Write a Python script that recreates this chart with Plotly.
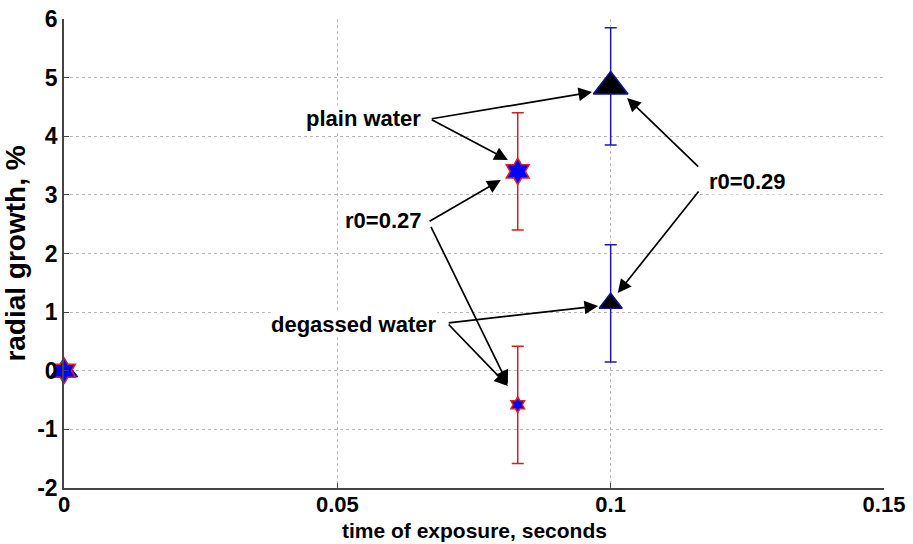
import plotly.graph_objects as go

# data
star_x = [0.083, 0.083]          # r0=0.27 (hexagram), plain / degassed
star_y = [3.4, -0.58]
star_err = [1.0, 1.0]
star_size = [20, 12]

tri_x = [0.1, 0.1]               # r0=0.29 (triangle), plain / degassed
tri_y = [4.85, 1.15]
tri_err = [1.0, 1.0]
tri_size = [30, 20]

origin_x = [0.0]
origin_y = [0.0]

x_ticks = [0, 0.05, 0.1, 0.15]
x_tick_labels = ["0", "0.05", "0.1", "0.15"]
y_ticks = [-2, -1, 0, 1, 2, 3, 4, 5, 6]
y_tick_labels = ["-2", "-1", "0", "1", "2", "3", "4", "5", "6"]

FONT = "Liberation Sans, Arial, sans-serif"

fig = go.Figure()

fig.add_trace(go.Scatter(
    x=tri_x, y=tri_y, mode="markers",
    marker=dict(symbol="triangle-up", size=tri_size, color="black", opacity=1,
                line=dict(color="#1010a0", width=1.5)),
    error_y=dict(type="data", array=tri_err, color="#1a1ab0", thickness=1.5, width=6),
    showlegend=False))

fig.add_trace(go.Scatter(
    x=star_x, y=star_y, mode="markers",
    marker=dict(symbol="hexagram", size=star_size, color="#0000ff", opacity=1,
                line=dict(color="#e02020", width=1.5)),
    error_y=dict(type="data", array=star_err, color="#d02020", thickness=1.5, width=6),
    showlegend=False))

fig.add_trace(go.Scatter(
    x=origin_x, y=origin_y, mode="markers",
    marker=dict(symbol="triangle-up", size=24, color="#0000ff", opacity=1,
                line=dict(color="#0000a0", width=1)),
    showlegend=False, cliponaxis=False))
fig.add_trace(go.Scatter(
    x=origin_x, y=origin_y, mode="markers",
    marker=dict(symbol="hexagram", size=20, color="#0000ff", opacity=1,
                line=dict(color="#e02020", width=1.5)),
    showlegend=False, cliponaxis=False))

def arrow(tail, head):
    return dict(x=head[0], y=head[1], ax=tail[0], ay=tail[1],
                xref="x", yref="y", axref="x", ayref="y",
                showarrow=True, arrowhead=2, arrowsize=1.6, arrowwidth=1.7,
                arrowcolor="black", text="", standoff=0)

def label(txt, pos):
    return dict(x=pos[0], y=pos[1], xref="x", yref="y", text=txt,
                showarrow=False, font=dict(family=FONT, size=22, color="black"),
                bgcolor="white", borderpad=0)

anns = [
    arrow((0.0670, 4.294), (0.0966, 4.755)),
    arrow((0.0670, 4.294), (0.0812, 3.595)),
    arrow((0.0666, 2.537), (0.0799, 3.254)),
    arrow((0.0670, 2.480), (0.0812, -0.226)),
    arrow((0.0701, 0.815), (0.0977, 1.104)),
    arrow((0.0701, 0.815), (0.0812, -0.260)),
    arrow((0.1163, 3.458), (0.1030, 4.652)),
    arrow((0.1163, 3.083), (0.1013, 1.326)),
    label("<b>plain water</b>", (0.0548, 4.31)),
    label("<b>r0=0.27</b>", (0.0583, 2.571)),
    label("<b>degassed water</b>", (0.0530, 0.790)),
    label("<b>r0=0.29</b>", (0.1250, 3.22)),
    dict(x=0.5, y=-0.0905, xref="paper", yref="paper", xanchor="center",
         yanchor="middle", showarrow=False,
         text="<b>time of exposure, seconds</b>",
         font=dict(size=21, family=FONT, color="black")),
]

fig.update_layout(
    width=913, height=544,
    margin=dict(l=64, r=29, t=19, b=56),
    paper_bgcolor="white", plot_bgcolor="white",
    font=dict(family=FONT, color="black"),
    annotations=anns,
    xaxis=dict(range=[0, 0.15], tickvals=x_ticks, ticktext=x_tick_labels,
               automargin=False, ticklabelstandoff=-4,
               showgrid=True, gridcolor="#b8b8b8", griddash="dot", gridwidth=1,
               showline=True, linecolor="#444444", linewidth=1.5,
               zeroline=False, ticks="inside", ticklen=5, tickcolor="#444444",
               tickfont=dict(size=22, family=FONT, weight="bold")),
    yaxis=dict(range=[-2, 6], tickvals=y_ticks, ticktext=y_tick_labels,
               automargin=False,
               showgrid=True, gridcolor="#b8b8b8", griddash="dot", gridwidth=1,
               showline=True, linecolor="#444444", linewidth=1.5,
               zeroline=False, ticks="inside", ticklen=5, tickcolor="#444444",
               tickfont=dict(size=23, family=FONT, weight="bold"),
               title=dict(text="<b>radial growth, %</b>", standoff=4,
                          font=dict(size=28, family=FONT))),
)

fig.write_html("out.html")
